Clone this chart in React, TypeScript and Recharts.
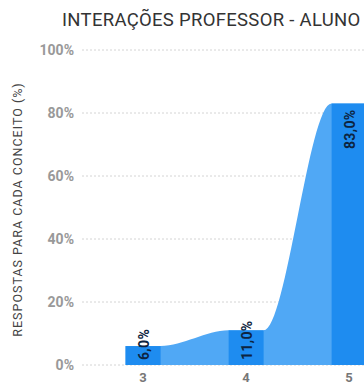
import React from 'react';
import {
  ComposedChart,
  Bar,
  Area,
  XAxis,
  YAxis,
  CartesianGrid,
  Label,
} from 'recharts';

const categories = ['3', '4', '5'];
const respostas = [6.0, 11.0, 83.0];
const yTicks = [0, 20, 40, 60, 80, 100];

const BAR_W = 35;
const HALF = 0.17; // meia largura da barra, em unidades de categoria

// a area acompanha as bordas de cada barra
const chartData: any[] = [];
categories.forEach((c, i) => {
  chartData.push({ x: i - HALF, area: respostas[i] });
  chartData.push({ x: i, area: respostas[i], bar: respostas[i] });
  chartData.push({ x: i + HALF, area: respostas[i] });
});

const fmt = (v: number) => v.toFixed(1).replace('.', ',') + '%';

const BarShape = (p: any) => {
  if (p.value == null || !p.height) return null;
  const cx = p.x + p.width / 2;
  return <rect x={cx - BAR_W / 2} y={p.y} width={BAR_W} height={p.height} fill="#1e8cf0" />;
};

const BarLabel = (props: any) => {
  const { x, y, width, height, value } = props;
  if (value == null) return null;
  const cx = x + width / 2 + 1;
  const big = height > 60;
  const ty = big ? y + 6 : y + height - 5;
  return (
    <text
      x={cx}
      y={ty}
      transform={`rotate(-90 ${cx} ${ty})`}
      textAnchor={big ? 'end' : 'start'}
      dominantBaseline="central"
      fill="#0d2440"
      fontSize={14}
      fontWeight={700}
      letterSpacing={0.3}
      fontFamily="Roboto, sans-serif"
    >
      {fmt(value)}
    </text>
  );
};

export default function App() {
  return (
    <div
      style={{
        position: 'fixed',
        left: 0,
        top: 0,
        width: 364,
        height: 390,
        overflow: 'hidden',
        background: '#fff',
      }}
    >
      <div style={{ position: 'absolute', left: 0, top: 0 }}>
        <ComposedChart
          width={415}
          height={390}
          data={chartData}
          margin={{ top: 50, right: 5, bottom: 0, left: 0 }}
        >
          <CartesianGrid
            vertical={false}
            stroke="#d4d4d4"
            strokeDasharray="2 2"
          />
          <XAxis
            dataKey="x"
            type="number"
            domain={[-0.592, 2.592]}
            ticks={[0, 1, 2]}
            tickFormatter={(v: number) => categories[v]}
            axisLine={false}
            tickLine={false}
            height={25}
            tick={{ fill: '#777', fontSize: 13, fontWeight: 700, fontFamily: 'Roboto, sans-serif' }}
          />
          <YAxis
            domain={[0, 100]}
            ticks={yTicks}
            tickFormatter={(v: number) => v + '%'}
            axisLine={false}
            tickLine={false}
            width={82}
            tick={{ fill: '#999', fontSize: 14, fontWeight: 700, fontFamily: 'Roboto, sans-serif' }}
          >
            <Label
              content={(p: any) => {
                const vb = p.viewBox;
                const cy = vb.y + vb.height / 2 + 2;
                return (
                  <text
                    x={17}
                    y={cy}
                    transform={`rotate(-90 17 ${cy})`}
                    textAnchor="middle"
                    dominantBaseline="central"
                    fill="#444"
                    fontSize={12.5}
                    letterSpacing={1}
                    fontFamily="Roboto, sans-serif"
                  >
                    RESPOSTAS PARA CADA CONCEITO (%)
                  </text>
                );
              }}
            />
          </YAxis>
          <Area
            dataKey="area"
            type="monotone"
            fill="#50a8f5"
            fillOpacity={1}
            stroke="none"
            isAnimationActive={false}
          />
          <Bar
            dataKey="bar"
            barSize={BAR_W}
            shape={<BarShape />}
            label={<BarLabel />}
            isAnimationActive={false}
          />
        </ComposedChart>
      </div>
      <div
        style={{
          position: 'absolute',
          left: 62,
          top: 9,
          fontFamily: 'Roboto, sans-serif',
          fontSize: 18.5,
          fontWeight: 400,
          letterSpacing: 0.3,
          color: '#333',
          whiteSpace: 'nowrap',
        }}
      >
        INTERAÇÕES PROFESSOR - ALUNO
      </div>
    </div>
  );
}
